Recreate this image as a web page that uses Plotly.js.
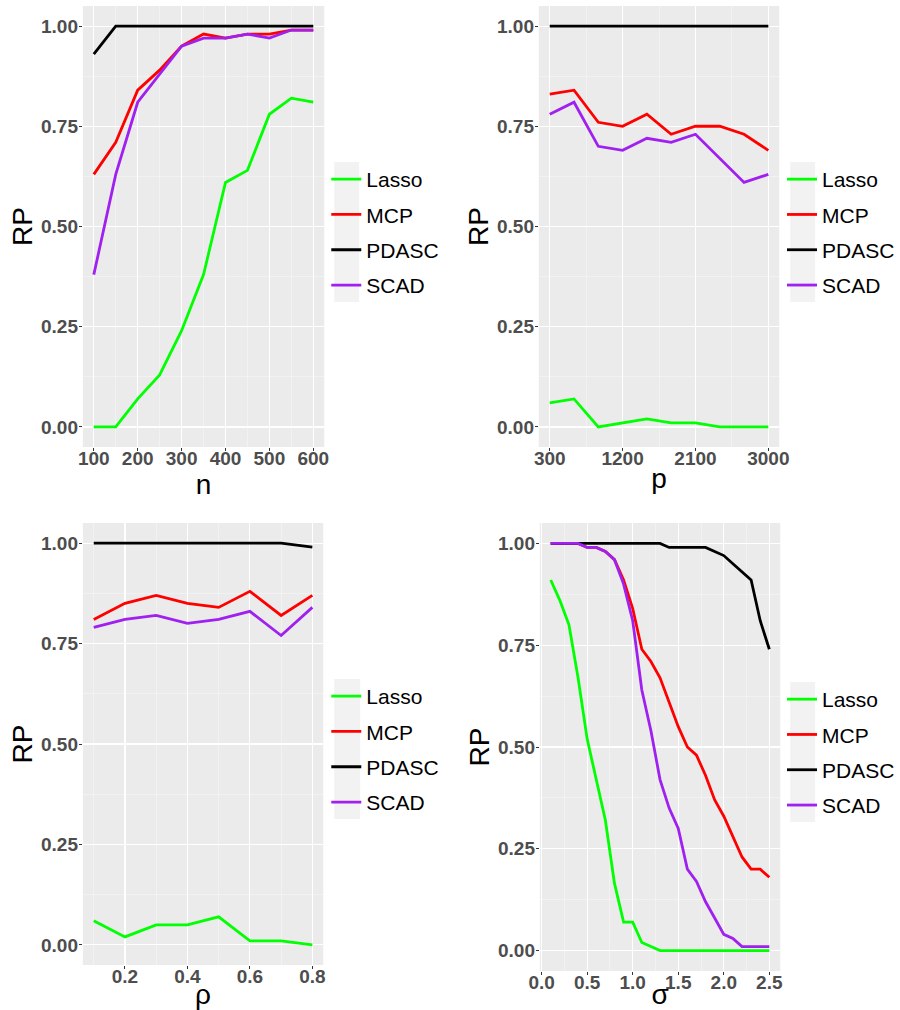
<!DOCTYPE html>
<html>
<head>
<meta charset="utf-8">
<script src="https://cdn.plot.ly/plotly-3.0.1.min.js"></script>
<style>html,body{margin:0;padding:0;background:#fff;}#chart{width:900px;height:1010px;}</style>
</head>
<body>
<div id="chart"></div>
<script>
// ---------- data ----------
const methods = ["Lasso", "MCP", "PDASC", "SCAD"];
const colors = ["#00ff00", "#ff0000", "#000000", "#a020f0"];

// Panel 1: n
const nVals = [100, 150, 200, 250, 300, 350, 400, 450, 500, 550, 600];
const nLasso = [0.00, 0.00, 0.07, 0.13, 0.24, 0.38, 0.61, 0.64, 0.78, 0.82, 0.81];
const nMCP   = [0.63, 0.71, 0.84, 0.89, 0.95, 0.98, 0.97, 0.98, 0.98, 0.99, 0.99];
const nPDASC = [0.93, 1.00, 1.00, 1.00, 1.00, 1.00, 1.00, 1.00, 1.00, 1.00, 1.00];
const nSCAD  = [0.38, 0.63, 0.81, 0.88, 0.95, 0.97, 0.97, 0.98, 0.97, 0.99, 0.99];

// Panel 2: p
const pVals = [300, 600, 900, 1200, 1500, 1800, 2100, 2400, 2700, 3000];
const pLasso = [0.06, 0.07, 0.00, 0.01, 0.02, 0.01, 0.01, 0.00, 0.00, 0.00];
const pMCP   = [0.83, 0.84, 0.76, 0.75, 0.78, 0.73, 0.75, 0.75, 0.73, 0.69];
const pPDASC = [1.00, 1.00, 1.00, 1.00, 1.00, 1.00, 1.00, 1.00, 1.00, 1.00];
const pSCAD  = [0.78, 0.81, 0.70, 0.69, 0.72, 0.71, 0.73, 0.67, 0.61, 0.63];

// Panel 3: rho
const rhoVals = [0.1, 0.2, 0.3, 0.4, 0.5, 0.6, 0.7, 0.8];
const rLasso = [0.06, 0.02, 0.05, 0.05, 0.07, 0.01, 0.01, 0.00];
const rMCP   = [0.81, 0.85, 0.87, 0.85, 0.84, 0.88, 0.82, 0.87];
const rPDASC = [1.00, 1.00, 1.00, 1.00, 1.00, 1.00, 1.00, 0.99];
const rSCAD  = [0.79, 0.81, 0.82, 0.80, 0.81, 0.83, 0.77, 0.84];

// Panel 4: sigma
const sigVals = [0.1, 0.2, 0.3, 0.4, 0.5, 0.6, 0.7, 0.8, 0.9, 1.0, 1.1, 1.2, 1.3,
                 1.4, 1.5, 1.6, 1.7, 1.8, 1.9, 2.0, 2.1, 2.2, 2.3, 2.4, 2.5];
const sLasso = [0.91, 0.86, 0.80, 0.67, 0.52, 0.42, 0.32, 0.165, 0.07, 0.07, 0.02, 0.01, 0.00,
                0.00, 0.00, 0.00, 0.00, 0.00, 0.00, 0.00, 0.00, 0.00, 0.00, 0.00, 0.00];
const sMCP   = [1.00, 1.00, 1.00, 1.00, 0.99, 0.99, 0.98, 0.96, 0.91, 0.84, 0.74, 0.71, 0.67,
                0.61, 0.55, 0.50, 0.48, 0.43, 0.37, 0.33, 0.28, 0.23, 0.20, 0.20, 0.18];
const sPDASC = [1.00, 1.00, 1.00, 1.00, 1.00, 1.00, 1.00, 1.00, 1.00, 1.00, 1.00, 1.00, 1.00,
                0.99, 0.99, 0.99, 0.99, 0.99, 0.98, 0.97, 0.95, 0.93, 0.91, 0.81, 0.74];
const sSCAD  = [1.00, 1.00, 1.00, 1.00, 0.99, 0.99, 0.98, 0.96, 0.90, 0.81, 0.64, 0.54, 0.42,
                0.35, 0.30, 0.20, 0.17, 0.12, 0.08, 0.04, 0.03, 0.01, 0.01, 0.01, 0.01];

const panels = [
  {x: nVals,   ys: [nLasso, nMCP, nPDASC, nSCAD], title: "n", range: [75, 625], tick0: 100, dtick: 100, mdtick: 50, fmt: "d",
   px: [83, 325], py: [6, 447], leg: [327, 159], key: [335, 360, 162, 302]},
  {x: pVals,   ys: [pLasso, pMCP, pPDASC, pSCAD], title: "p", range: [165, 3135], tick0: 300, dtick: 900, mdtick: 450, fmt: "d",
   px: [540, 781], py: [6, 447], leg: [784, 159], key: [792, 817, 162, 302]},
  {x: rhoVals, ys: [rLasso, rMCP, rPDASC, rSCAD], title: "ρ", range: [0.065, 0.835], tick0: 0, dtick: 0.2, mdtick: 0.1, fmt: ".1f",
   px: [83, 324], py: [523, 965], leg: [327, 676], key: [335, 361, 679, 819]},
  {x: sigVals, ys: [sLasso, sMCP, sPDASC, sSCAD], title: "σ", range: [-0.02, 2.62], tick0: 0, dtick: 0.5, mdtick: 0.25, fmt: ".1f",
   px: [541, 782], py: [523, 971], leg: [784, 679], key: [792, 817, 682, 822]}
];

const W = 900, H = 1010;
const FONT = "Liberation Sans, Arial, sans-serif";
const traces = [];
const layout = {
  width: W, height: H,
  margin: {l: 0, r: 0, t: 0, b: 0},
  paper_bgcolor: "#ffffff",
  plot_bgcolor: "#ebebeb",
  font: {family: FONT, color: "#000"},
  showlegend: true,
  shapes: []
};

panels.forEach((p, i) => {
  const k = i === 0 ? "" : String(i + 1);
  const legName = "legend" + k;
  methods.forEach((m, j) => {
    traces.push({
      type: "scatter", mode: "lines",
      x: p.x, y: p.ys[j], name: m,
      line: {color: colors[j], width: 2.8},
      xaxis: "x" + k, yaxis: "y" + k,
      legend: legName,
      legendgroup: m + k,
      hoverinfo: "skip"
    });
  });
  const tickFont = {family: FONT, size: 19, color: "#4d4d4d", weight: "bold"};
  layout["xaxis" + k] = {
    domain: [p.px[0] / W, p.px[1] / W],
    anchor: "y" + k,
    range: p.range, tick0: p.tick0, dtick: p.dtick, tickformat: p.fmt,
    showgrid: true, gridcolor: "#ffffff", gridwidth: 1.1,
    minor: {dtick: p.mdtick, tick0: p.tick0, showgrid: true, gridcolor: "#f7f7f7", gridwidth: 0.6, ticks: ""},
    zeroline: false, showline: false,
    ticks: "outside", ticklen: 3, tickwidth: 1, tickcolor: "#333333",
    ticklabelstandoff: -9,
    tickfont: tickFont,
    title: {text: p.title, font: {family: FONT, size: 28, color: "#000"}, standoff: 0},
    automargin: false
  };
  layout["yaxis" + k] = {
    domain: [1 - p.py[1] / H, 1 - p.py[0] / H],
    anchor: "x" + k,
    range: [-0.05, 1.05], tick0: 0, dtick: 0.25, tickformat: ".2f",
    showgrid: true, gridcolor: "#ffffff", gridwidth: 1.1,
    minor: {dtick: 0.125, tick0: 0, showgrid: true, gridcolor: "#f7f7f7", gridwidth: 0.6, ticks: ""},
    zeroline: false, showline: false,
    ticks: "outside", ticklen: 3, tickwidth: 1, tickcolor: "#333333",
    ticklabelstandoff: -3,
    tickfont: tickFont,
    title: {text: "RP", font: {family: FONT, size: 28, color: "#000"}, standoff: 0},
    automargin: false
  };
  layout[legName] = {
    x: p.leg[0] / W, y: 1 - p.leg[1] / H, xanchor: "left", yanchor: "top",
    bgcolor: "rgba(0,0,0,0)", borderwidth: 0,
    font: {family: FONT, size: 21, color: "#000"},
    traceorder: "grouped", tracegroupgap: 5,
    itemclick: false, itemdoubleclick: false
  };
  layout.shapes.push({
    type: "rect", xref: "paper", yref: "paper", layer: "below",
    x0: p.key[0] / W, x1: p.key[1] / W,
    y0: 1 - p.key[3] / H, y1: 1 - p.key[2] / H,
    fillcolor: "#f2f2f2", line: {width: 0}
  });
});

Plotly.newPlot("chart", traces, layout, {displayModeBar: false, staticPlot: true});
</script>
</body>
</html>
